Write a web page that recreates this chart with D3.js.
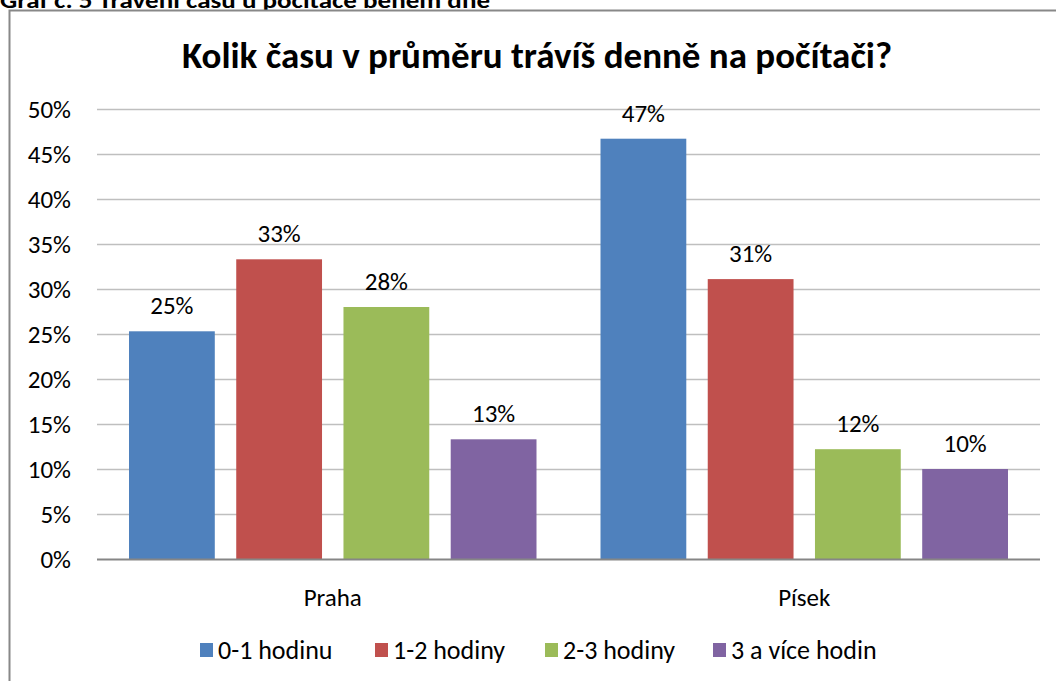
<!DOCTYPE html>
<html>
<head>
<meta charset="utf-8">
<script src="https://cdn.jsdelivr.net/npm/d3@7"></script>
<style>
  body { margin: 0; background: #fff; }
  text { font-family: Carlito, Calibri, Lato, "Open Sans", sans-serif; fill: #000; }
</style>
</head>
<body>
<div id="chart-area"></div>
<script>
// data
var categories = ["Praha", "Písek"];
var seriesNames = ["0-1 hodinu", "1-2 hodiny", "2-3 hodiny", "3 a více hodin"];
var seriesColors = ["#4f81bd", "#c0504d", "#9bbb59", "#8064a2"];
var prahaValues = [25.3, 33.3, 28.0, 13.3];
var pisekValues = [46.7, 31.1, 12.2, 10.0];
var labelValues = [[25, 33, 28, 13], [47, 31, 12, 10]];
var yTicks = [0, 5, 10, 15, 20, 25, 30, 35, 40, 45, 50];

var values = [prahaValues, pisekValues];

var width = 1056, height = 681;
var margin = { left: 97, right: 16, top: 109, bottom: 122 };
var innerW = width - margin.left - margin.right;
var innerH = height - margin.top - margin.bottom;
var fs = "25px";

var svg = d3.select("#chart-area").append("svg")
  .attr("width", width)
  .attr("height", height);

// caption above the chart, clipped by the page edge like in the source
svg.append("text")
  .attr("x", 0)
  .attr("y", 8)
  .attr("font-size", "22px")
  .attr("font-weight", "bold")
  .attr("textLength", 490)
  .attr("lengthAdjust", "spacingAndGlyphs")
  .text("Graf č. 5 Trávení času u počítače během dne");

// chart frame
svg.append("rect")
  .attr("x", 9.5)
  .attr("y", 10.5)
  .attr("width", 1100)
  .attr("height", 800)
  .attr("fill", "#fff")
  .attr("stroke", "#888")
  .attr("stroke-width", 2);

svg.append("text")
  .attr("x", 537)
  .attr("y", 68)
  .attr("text-anchor", "middle")
  .attr("font-size", "37px")
  .attr("font-weight", "bold")
  .text("Kolik času v průměru trávíš denně na počítači?");

var g = svg.append("g")
  .attr("transform", "translate(" + margin.left + ", " + margin.top + ")");

var y = d3.scaleLinear()
  .domain([0, 50])
  .range([innerH, 0]);

var x0 = d3.scaleBand()
  .domain(categories)
  .range([0, innerW]);

var x1 = d3.scaleBand()
  .domain(seriesNames)
  .range([32, x0.bandwidth() - 32])
  .paddingInner(0.2);

// gridlines
g.append("g")
  .selectAll("line")
  .data(yTicks.slice(1))
  .enter()
  .append("line")
    .attr("x1", 0)
    .attr("x2", innerW)
    .attr("y1", function(d){ return Math.round(y(d)) + 0.5; })
    .attr("y2", function(d){ return Math.round(y(d)) + 0.5; })
    .attr("stroke", "#bfbfbf")
    .attr("stroke-width", 1.5);

var yAxis = d3.axisLeft(y)
  .tickValues(yTicks)
  .tickSize(0)
  .tickPadding(26)
  .tickFormat(function(d){ return d + "%"; });

g.append("g")
  .attr("class", "y-axis")
  .call(yAxis)
  .call(function(s){
    s.select(".domain").remove();
    s.selectAll("text").attr("font-size", fs).attr("font-family", null).attr("fill", "#000");
  });

var groups = g.selectAll(".cat")
  .data(categories)
  .enter()
  .append("g")
    .attr("class", "cat")
    .attr("transform", function(d){ return "translate(" + x0(d) + ",0)"; });

groups.selectAll("rect")
  .data(function(d, i){
    return seriesNames.map(function(s, j){ return { s: s, v: values[i][j], c: seriesColors[j] }; });
  })
  .enter()
  .append("rect")
    .attr("x", function(d){ return x1(d.s); })
    .attr("y", function(d){ return y(d.v); })
    .attr("width", x1.bandwidth())
    .attr("height", function(d){ return innerH - y(d.v); })
    .attr("fill", function(d){ return d.c; });

groups.selectAll(".lbl")
  .data(function(d, i){
    return seriesNames.map(function(s, j){ return { s: s, v: values[i][j], l: labelValues[i][j] }; });
  })
  .enter()
  .append("text")
    .attr("class", "lbl")
    .attr("x", function(d){ return x1(d.s) + x1.bandwidth() / 2; })
    .attr("y", function(d){ return y(d.v) - 17; })
    .attr("text-anchor", "middle")
    .attr("font-size", fs)
    .text(function(d){ return d.l + "%"; });

// x axis baseline
g.append("line")
  .attr("x1", 0)
  .attr("x2", innerW)
  .attr("y1", innerH + 0.5)
  .attr("y2", innerH + 0.5)
  .attr("stroke", "#868686")
  .attr("stroke-width", 2);

g.selectAll(".cat-label")
  .data(categories)
  .enter()
  .append("text")
    .attr("class", "cat-label")
    .attr("x", function(d){ return x0(d) + x0.bandwidth() / 2; })
    .attr("y", innerH + 47)
    .attr("text-anchor", "middle")
    .attr("font-size", fs)
    .text(function(d){ return d; });

// legend
var legendX = [200, 375, 545, 713];
var legend = svg.append("g")
  .selectAll("g")
  .data(seriesNames)
  .enter()
  .append("g")
    .attr("transform", function(d, i){ return "translate(" + legendX[i] + ", 650)"; });

legend.append("rect")
  .attr("x", 0)
  .attr("y", -7)
  .attr("width", 13)
  .attr("height", 14)
  .attr("fill", function(d, i){ return seriesColors[i]; });

legend.append("text")
  .attr("x", 18)
  .attr("y", 9)
  .attr("font-size", "26px")
  .text(function(d){ return d; });
</script>
</body>
</html>
